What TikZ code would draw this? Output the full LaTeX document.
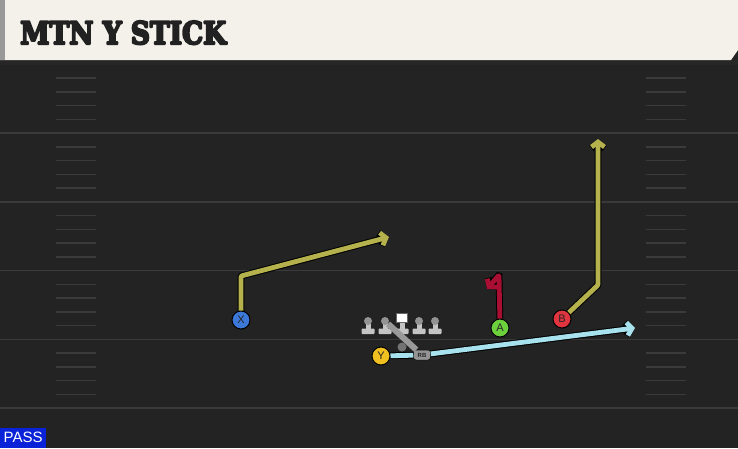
\documentclass[tikz,border=0pt]{standalone}
\usepackage{fontspec}
\usepackage{graphicx}
\usetikzlibrary{arrows.meta, positioning}
\newfontfamily\titlefont{DejaVu Serif}[UprightFont={* Bold}]
\newfontfamily\labelfont{Liberation Sans}
\newcommand{\heavytext}[1]{\special{pdf:literal direct 2 Tr 0.7 w 1 j}#1\special{pdf:literal direct 0 Tr 1 w 0 j}}
\definecolor{field}{HTML}{232323}
\definecolor{yardline}{HTML}{3A3A3A}
\definecolor{header}{HTML}{F4F1EA}
\definecolor{olive}{HTML}{B5B24E}
\definecolor{crimson}{HTML}{A80F33}
\definecolor{skyroute}{HTML}{A8E2EE}
\definecolor{xblue}{HTML}{3C78D8}
\definecolor{yyellow}{HTML}{F0C020}
\definecolor{agreen}{HTML}{6CCF3C}
\definecolor{bred}{HTML}{E0343F}
\definecolor{passblue}{HTML}{0A22D8}
\definecolor{olgray}{HTML}{C4C4C4}
\tikzstyle{player} = [circle, draw=black, line width=1pt, minimum size=18pt, inner sep=0pt, text=black!85, font=\labelfont\fontsize{11}{11}\selectfont]
\tikzstyle{route} = [line width=4.8pt, line join=round, rounded corners=1pt, -{Straight Barb[length=5pt,width=13pt]}, preaction={draw=black, line width=6.8pt}]
\tikzstyle{head} = [circle, fill=olgray!75!black, minimum size=8pt, inner sep=0pt]
\tikzstyle{hash} = [draw=yardline, line width=1.5pt]

\begin{document}
\begin{tikzpicture}[x=1pt, y=-1pt]
    \useasboundingbox (0,0) rectangle (738,448);
    % field
    \fill[field] (0,0) rectangle (738,448);
    \foreach \y in {133, 201.75, 270.5, 339.25, 408}
        \draw[yardline, line width=1.5pt] (0,\y) -- (738,\y);
    \foreach \y in {64.25, 133, 201.75, 270.5, 339.25}
        \foreach \j in {1,2,3,4} {
            \draw[hash] (56,\y+13.75*\j) -- (96,\y+13.75*\j);
            \draw[hash] (646,\y+13.75*\j) -- (686,\y+13.75*\j);
        }
    % header
    \fill[black!85] (0,60) rectangle (738,65);
    \fill[header] (0,0) -- (738,0) -- (738,50) -- (731,60) -- (0,60) -- cycle;
    \fill[black!40] (0,0) rectangle (5,60);
    \node[anchor=base west, inner sep=0pt, text=black!87] (title) at (20,44)
        {\resizebox{206pt}{23pt}{\titlefont\heavytext{MTN Y STICK}}};

    % line
    \foreach \n/\x in {LT/368, LG/385, RG/419, RT/435} {
        \fill[olgray] (\x-2.5,322) rectangle (\x+2.5,330);
        \fill[olgray, rounded corners=0.8pt] (\x-6.5,328.5) rectangle (\x+6.5,334);
        \node[head] (\n) at (\x,321) {};
    }
    \fill[olgray] (399.5,321) rectangle (404.5,330);
    \fill[olgray, rounded corners=0.8pt] (395.5,328.5) rectangle (408.5,334);
    \node[fill=white, draw=black!60, minimum width=11pt, minimum height=9pt, inner sep=0pt] (C) at (402,318) {};
    \node[circle, fill=black!55, minimum size=9pt, inner sep=0pt] (QB) at (402,347) {};

    % players
    \node[player, fill=xblue] (X) at (241,320) {X};
    \node[player, fill=yyellow] (Y) at (381,356) {Y};
    \node[player, fill=agreen] (A) at (500,328) {A};
    \node[player, fill=bred] (B) at (562,319) {B};
    \node[rectangle, rounded corners=2.5pt, fill=black!42, draw=black, line width=0.5pt, minimum width=17pt, minimum height=10pt, inner sep=0pt, text=black!85, font=\labelfont\bfseries\fontsize{6}{6}\selectfont] (RB) at (422,355) {RB};

    \coordinate (xbreak) at (241,276);
    \coordinate (xend) at (389,237);
    \coordinate (bbreak) at (598,285);
    \coordinate (bend) at (598,139);
    \coordinate (atop) at (499,275);
    \coordinate (aend) at (487,289);
    \coordinate (yend) at (635,328);

    % routes
    \draw[route, olive] (X) -- (xbreak) -- (xend);
    \draw[route, olive] (B) -- (bbreak) -- (bend);
    \draw[route, crimson] (A) -- (atop) -- (aend);
    \draw[route, skyroute] (Y) -- (RB) -- (yend);
    \draw[black!40, line width=6pt] (LG) -- (RB);

    \node[fill=passblue, anchor=south west, minimum width=46pt, minimum height=20pt, inner sep=0pt, text=white, font=\labelfont\fontsize{15}{15}\selectfont] (pass) at (0,448) {PASS};
\end{tikzpicture}
\end{document}
